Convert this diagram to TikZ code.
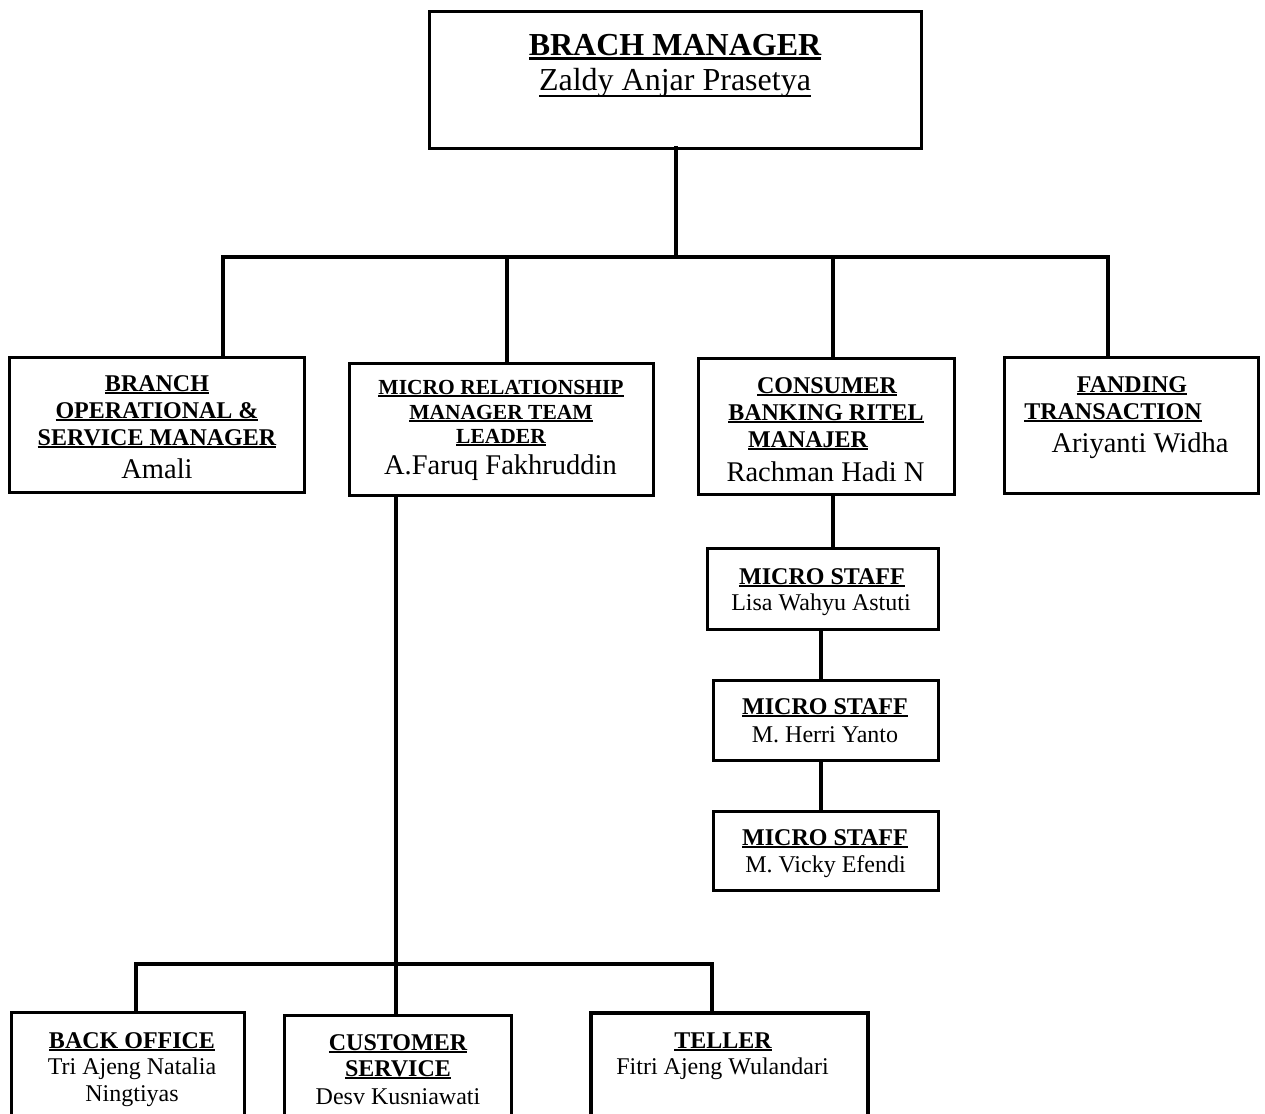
\documentclass[tikz,border=0pt]{standalone}
\usepackage{fontspec}
\setmainfont{Liberation Serif}
\newcommand{\myul}[1]{\leavevmode\sbox0{#1}\rlap{\rule[-0.14em]{\wd0}{0.095em}}\usebox0}
\newcommand{\myuldeep}[1]{\leavevmode\sbox0{#1}\rlap{\rule[-0.2em]{\wd0}{0.075em}}\usebox0}
\tikzset{
  box/.style={draw=black, line width=3pt, fill=white, inner sep=0pt, outer sep=0pt, rectangle},
  conn/.style={draw=black, line width=3.2pt, line join=miter, line cap=rect},
  txt/.style={anchor=base, inner sep=0pt, outer sep=0pt, text=black},
  hd/.style={font=\fontsize{24}{24}\selectfont\bfseries},
  hdsm/.style={font=\fontsize{21.5}{21.5}\selectfont\bfseries},
  ttl/.style={font=\fontsize{32}{32}\selectfont\bfseries},
  ttlnm/.style={font=\fontsize{32}{32}\selectfont},
  nm/.style={font=\fontsize{28.5}{28.5}\selectfont},
  snm/.style={font=\fontsize{24}{24}\selectfont},
}
\begin{document}
\begin{tikzpicture}[x=1pt,y=-1pt]
\useasboundingbox (0,0) rectangle (1265,1113);
\clip (0,0) rectangle (1265,1113);
\fill[white] (0,0) rectangle (1265,1113);

% connector junctions
\coordinate (j0) at (676,257);
\coordinate (bl) at (223,257);
\coordinate (br) at (1108,257);
\coordinate (c2) at (507,257);
\coordinate (c3) at (833,257);
\coordinate (m1) at (821,600);
\coordinate (j1) at (396,964);
\coordinate (dl) at (136,964);
\coordinate (dr) at (712,964);

% boxes
\node[box, minimum width=492pt, minimum height=136pt] (top) at (675,80) {};
\node[box, minimum width=295pt, minimum height=135pt] (b1) at (156.5,424.5) {};
\node[box, minimum width=304pt, minimum height=132pt] (b2) at (501,429) {};
\node[box, minimum width=256pt, minimum height=136pt] (b3) at (826,426) {};
\node[box, minimum width=254pt, minimum height=136pt] (b4) at (1131,425) {};
\node[box, minimum width=231pt, minimum height=81pt] (ms1) at (822.5,588.5) {};
\node[box, minimum width=225pt, minimum height=80pt] (ms2) at (825.5,720) {};
\node[box, minimum width=225pt, minimum height=79pt] (ms3) at (825.5,850.5) {};
\node[box, minimum width=233pt, minimum height=128pt] (bo) at (127.5,1076) {};
\node[box, minimum width=227pt, minimum height=125pt] (cs) at (397.5,1077.5) {};
\node[box, line width=3.6pt, minimum width=277pt, minimum height=127pt] (tel) at (729.5,1076.5) {};

\draw[conn] (top.south -| j0) -- (j0);
\draw[conn, line cap=butt] (b1.north -| bl) -- (bl) -- (br) -- (b4.north -| br);
\draw[conn, line cap=butt] (c2) -- (b2.north -| c2);
\draw[conn, line cap=butt] (c3) -- (b3.north -| c3);
\draw[conn, line cap=butt] (b3.south -| c3) -- (ms1.north -| c3);
\draw[conn, line cap=butt] (ms1.south -| m1) -- (ms2.north -| m1);
\draw[conn, line cap=butt] (ms2.south -| m1) -- (ms3.north -| m1);
\draw[conn, line cap=butt] (b2.south -| j1) -- (j1);
\draw[conn, line cap=butt] (bo.north -| dl) -- (dl) -- (dr) -- (tel.north -| dr);
\draw[conn, line cap=butt] (j1) -- (cs.north -| j1);

% texts: top
\node[txt, ttl] (t0a) at (675,56) {\myul{BRACH MANAGER}};
\node[txt, ttlnm] (t0b) at (675,91) {\myuldeep{Zaldy Anjar Prasetya}};
% box 1
\node[txt, hd] (t1a) at (157,391) {\myul{BRANCH}};
\node[txt, hd] (t1b) at (157,418) {\myul{OPERATIONAL \&}};
\node[txt, hd] (t1c) at (157,445) {\myul{SERVICE MANAGER}};
\node[txt, nm] (t1d) at (157,478) {Amali};
% box 2
\node[txt, hdsm] (t2a) at (501,394) {\myul{MICRO RELATIONSHIP}};
\node[txt, hdsm] (t2b) at (501,419) {\myul{MANAGER TEAM}};
\node[txt, hdsm] (t2c) at (501,443) {\myul{LEADER}};
\node[txt, nm] (t2d) at (500.5,474) {A.Faruq Fakhruddin};
% box 3
\node[txt, hd] (t3a) at (827,393) {\myul{CONSUMER}};
\node[txt, hd] (t3b) at (826,420) {\myul{BANKING RITEL}};
\node[txt, hd] (t3c) at (808,447) {\myul{MANAJER}};
\node[txt, nm] (t3d) at (825.5,481) {Rachman Hadi N};
% box 4
\node[txt, hd] (t4a) at (1132,392) {\myul{FANDING}};
\node[txt, hd] (t4b) at (1113,419) {\myul{TRANSACTION}};
\node[txt, nm] (t4c) at (1140,452) {Ariyanti Widha};
% micro staff
\node[txt, hd] (s1a) at (822,584) {\myul{MICRO STAFF}};
\node[txt, snm] (s1b) at (821,610) {Lisa Wahyu Astuti};
\node[txt, hd] (s2a) at (825,714) {\myul{MICRO STAFF}};
\node[txt, snm] (s2b) at (825,742) {M. Herri Yanto};
\node[txt, hd] (s3a) at (825,845) {\myul{MICRO STAFF}};
\node[txt, snm] (s3b) at (825.5,872) {M. Vicky Efendi};
% bottom row
\node[txt, hd] (p1a) at (132,1048) {\myul{BACK OFFICE}};
\node[txt, snm] (p1b) at (132,1074) {Tri Ajeng Natalia};
\node[txt, snm] (p1c) at (132,1101) {Ningtiyas};
\node[txt, hd] (p2a) at (398,1050) {\myul{CUSTOMER}};
\node[txt, hd] (p2b) at (398,1076) {\myul{SERVICE}};
\node[txt, snm] (p2c) at (398,1104) {Desv Kusniawati};
\node[txt, hd] (p3a) at (723,1048) {\myul{TELLER}};
\node[txt, snm] (p3b) at (722.5,1074) {Fitri Ajeng Wulandari};
\end{tikzpicture}
\end{document}
